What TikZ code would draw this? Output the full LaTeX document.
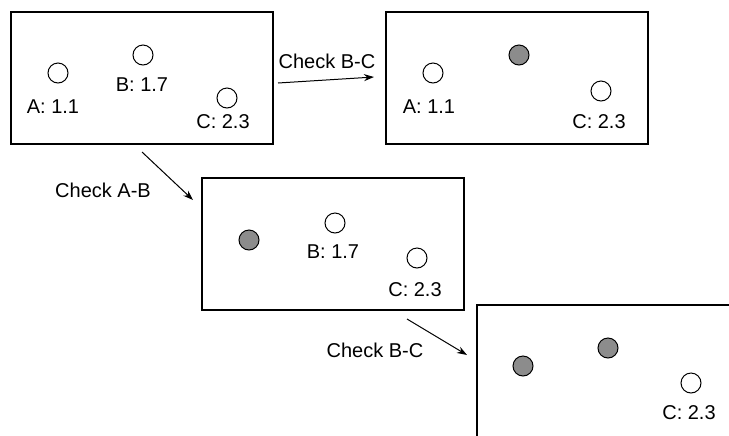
\documentclass[tikz,border=0pt]{standalone}
\usepackage{fontspec}
\setmainfont{Liberation Sans}
\usetikzlibrary{arrows.meta,positioning}
\definecolor{visited}{gray}{0.55}

\begin{document}
\begin{tikzpicture}[x=0.5pt,y=-0.5pt,
    panel/.style={draw, line width=1pt, minimum width=131pt, minimum height=66pt, inner sep=0pt},
    pt/.style={circle, draw, line width=0.5pt, minimum size=10pt, inner sep=0pt, fill=white},
    seen/.style={pt, fill=visited},
    lbl/.style={font=\fontsize{10}{12}\selectfont, inner sep=0pt},
    arr/.style={-{Stealth[length=5pt,width=3.5pt]}, line width=0.5pt}]
        \useasboundingbox (0,0) rectangle (729,435);
        \clip (0,0) rectangle (729,435);

        % panels
        \node[panel] (p1) at (141.5,78) {};
        \node[panel] (p2) at (517,78) {};
        \node[panel] (p3) at (332.5,244) {};
        \node[panel] (p4) at (607.5,371) {};

        % first panel: nothing checked yet
        \node[pt] (a1) at (58,73) {};
        \node[pt] (b1) at (143,55) {};
        \node[pt] (c1) at (227,98) {};
        \node[lbl] at (53,107) {A: 1.1};
        \node[lbl] at (142,85) {B: 1.7};
        \node[lbl] at (223,122) {C: 2.3};

        % second panel: B removed
        \node[pt] (a2) at (433,73) {};
        \node[seen] (b2) at (519,55) {};
        \node[pt] (c2) at (601,91) {};
        \node[lbl] at (429,107) {A: 1.1};
        \node[lbl] at (599,122) {C: 2.3};

        % third panel: A removed
        \node[seen] (a3) at (249,240) {};
        \node[pt] (b3) at (335,223) {};
        \node[pt] (c3) at (417,258) {};
        \node[lbl] at (333,252) {B: 1.7};
        \node[lbl] at (415,290) {C: 2.3};

        % fourth panel: A and B removed
        \node[seen] (a4) at (523,366) {};
        \node[seen] (b4) at (608,348) {};
        \node[pt] (c4) at (691,383) {};
        \node[lbl] at (689,413) {C: 2.3};

        % steps
        \coordinate (s1) at (278,83);
        \coordinate (e1) at (374,77);
        \coordinate (s2) at (142,152);
        \coordinate (e2) at (193,200);
        \coordinate (s3) at (407,319);
        \coordinate (e3) at (467,355);
        \draw[arr] (s1) -- (e1);
        \draw[arr] (s2) -- (e2);
        \draw[arr] (s3) -- (e3);
        \node[lbl] (t1) at (327,61) {Check B-C};
        \node[lbl] (t2) at (103,190) {Check A-B};
        \node[lbl] (t3) at (375,350) {Check B-C};
    \end{tikzpicture}
\end{document}
